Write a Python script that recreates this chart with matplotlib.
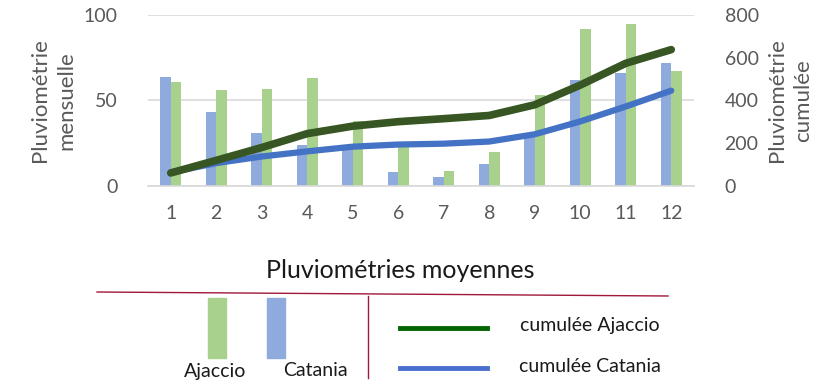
import matplotlib
matplotlib.use('agg')
import matplotlib.pyplot as plt
from matplotlib.lines import Line2D
from matplotlib.patches import Rectangle
import numpy as np

plt.rcParams['font.family'] = ['Lato', 'DejaVu Sans']

months = [1, 2, 3, 4, 5, 6, 7, 8, 9, 10, 11, 12]
ajaccio = [61, 56, 57, 63, 38, 25, 9, 20, 53, 92, 95, 67]
catania = [64, 43, 31, 24, 22, 8, 5, 13, 31, 62, 66, 72]
cumul_ajaccio = [61, 120, 180, 245, 280, 301, 315, 330, 380, 472, 574, 638]
cumul_catania = [64, 107, 138, 162, 184, 194, 198, 208, 242, 302, 372, 446]

green_bar = '#A9D18E'
blue_bar = '#8FAADC'
green_line = '#375623'
blue_line = '#4472C4'
grey_txt = '#595959'
dark_txt = '#1A1A1A'

fig = plt.figure(figsize=(8.39, 3.85), dpi=100)
ax = fig.add_axes([148/839, 1 - 186/385, (694 - 148)/839, (186 - 15)/385])

x = np.array(months)
w = 0.235
ax.bar(x - w/2, catania, w, color=blue_bar, zorder=2)
ax.bar(x + w/2, ajaccio, w, color=green_bar, zorder=2)

ax.set_xlim(0.5, 12.5)
ax.set_ylim(0, 100)
ax.set_yticks([0, 50, 100])
ax.set_xticks(months)
ax.grid(axis='y', color='#D9D9D9', lw=1.2, zorder=0)
for s in ['top', 'left', 'right']:
    ax.spines[s].set_visible(False)
ax.spines['bottom'].set_color('#D9D9D9')
ax.spines['bottom'].set_linewidth(1.2)
ax.tick_params(length=0, labelsize=14, colors=grey_txt, pad=14)
ax.tick_params(axis='y', pad=22)
ax.set_ylabel('Pluviométrie\nmensuelle', fontsize=16, color=grey_txt,
              labelpad=5, linespacing=1.4)

ax2 = ax.twinx()
ax2.plot(x, cumul_catania, color=blue_line, lw=4.5, solid_capstyle='round')
ax2.plot(x, cumul_ajaccio, color=green_line, lw=5.5, solid_capstyle='round')
ax2.set_ylim(0, 800)
ax2.set_yticks([0, 200, 400, 600, 800])
for s in ax2.spines.values():
    s.set_visible(False)
ax2.tick_params(length=0, labelsize=14, colors=grey_txt, pad=22)
ax2.set_ylabel('Pluviométrie\ncumulée', fontsize=16, color=grey_txt,
               labelpad=6, linespacing=1.4)

fig.text(400/839, 1 - 270/385, 'Pluviométries moyennes', fontsize=18,
         color=dark_txt, ha='center', va='center')

# legend block drawn by hand
red = '#A0183A'
fig.add_artist(Line2D([97/839, 668/839], [1 - 292/385, 1 - 296/385], color=red, lw=1))
fig.add_artist(Line2D([368/839, 368/839], [1 - 296/385, 1 - 378/385], color=red, lw=1))
fig.add_artist(Rectangle((208/839, 1 - 358/385), 18/839, 60/385, color=green_bar))
fig.add_artist(Rectangle((267/839, 1 - 358/385), 18/839, 60/385, color=blue_bar))
fig.text(215/839, 1 - 371/385, 'Ajaccio', fontsize=14, color=dark_txt, ha='center', va='center')
fig.text(315/839, 1 - 371/385, 'Catania', fontsize=14, color=dark_txt, ha='center', va='center')
fig.add_artist(Line2D([400/839, 487/839], [1 - 328/385, 1 - 328/385], color='#006400', lw=3.5))
fig.add_artist(Line2D([400/839, 487/839], [1 - 368/385, 1 - 368/385], color='#4A6FD0', lw=3.5))
fig.text(590/839, 1 - 326/385, 'cumulée Ajaccio', fontsize=14, color=dark_txt, ha='center', va='center')
fig.text(590/839, 1 - 367/385, 'cumulée Catania', fontsize=14, color=dark_txt, ha='center', va='center')

fig.savefig('out.png', dpi=100)
